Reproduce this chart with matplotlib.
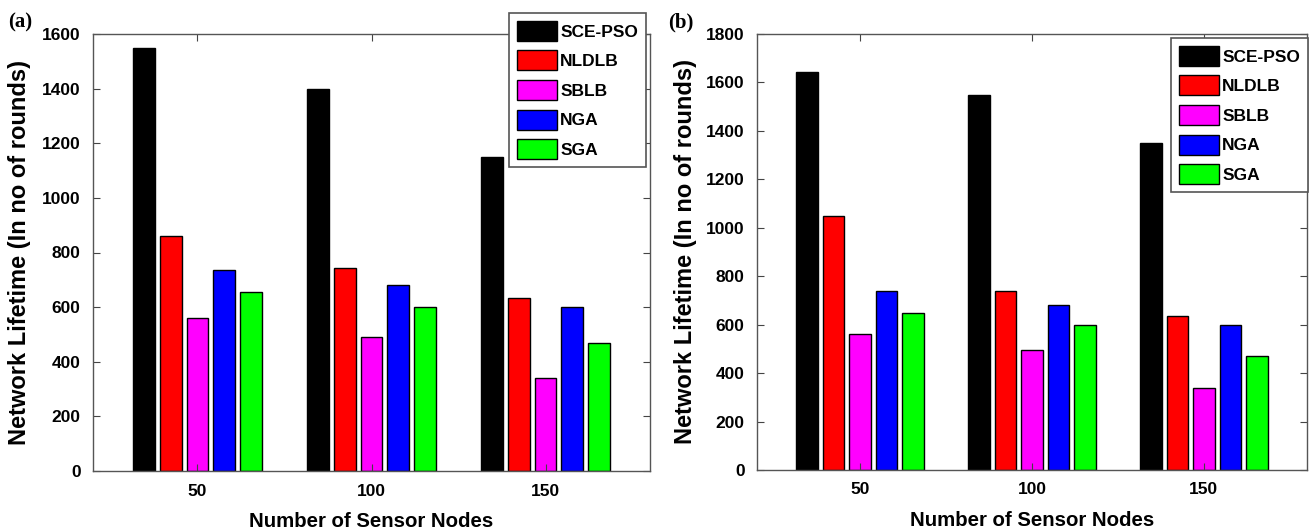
import numpy as np
import matplotlib
matplotlib.use("Agg")
import matplotlib.pyplot as plt

categories = ["50", "100", "150"]
series_names = ["SCE-PSO", "NLDLB", "SBLB", "NGA", "SGA"]
colors = ["#000000", "#ff0000", "#ff00ff", "#0000ff", "#00ff00"]

# Panel (a)
a_sce_pso = [1550, 1400, 1150]
a_nldlb = [860, 745, 635]
a_sblb = [560, 490, 340]
a_nga = [737, 682, 600]
a_sga = [655, 600, 470]

# Panel (b)
b_sce_pso = [1645, 1550, 1350]
b_nldlb = [1050, 740, 637]
b_sblb = [563, 495, 340]
b_nga = [740, 680, 600]
b_sga = [650, 600, 472]

a_ticks = [0, 200, 400, 600, 800, 1000, 1200, 1400, 1600]
b_ticks = [0, 200, 400, 600, 800, 1000, 1200, 1400, 1600, 1800]

plt.rcParams['font.family'] = ['Liberation Sans', 'DejaVu Sans']
plt.rcParams['font.weight'] = 'bold'

fig = plt.figure(figsize=(13.16, 5.32), dpi=100)

ax_a = fig.add_axes([93/1316, 61/532, 557/1316, 437/532])
ax_b = fig.add_axes([757/1316, 62/532, 550/1316, 436/532])

def draw(ax, data, ticks, ylim, leg_anchor, ylabelpad):
    x = np.arange(1, len(categories) + 1)
    n = len(data)
    step = 0.154
    width = 0.125
    handles = []
    for i, (vals, c) in enumerate(zip(data, colors)):
        h = ax.bar(x + (i - (n - 1) / 2) * step, vals, width=width, color=c,
                   edgecolor='black', linewidth=1.0, label=series_names[i])
        handles.append(h)
    ax.set_xlim(0.4, 3.6)
    ax.set_ylim(*ylim)
    ax.set_xticks(x)
    ax.set_xticklabels(categories)
    ax.set_yticks(ticks)
    ax.tick_params(direction='in', length=5, width=0.8, top=True, right=True,
                   labelsize=12.5, pad=9, color='#444444')
    for lbl in ax.get_xticklabels() + ax.get_yticklabels():
        lbl.set_fontweight('bold')
    for s in ax.spines.values():
        s.set_color('#555555')
        s.set_linewidth(1.0)
    ax.set_xlabel("Number of Sensor Nodes", fontsize=14.7, fontweight='bold', labelpad=10)
    ax.set_ylabel("Network Lifetime (In no of rounds)", fontsize=17, fontweight='bold',
                  labelpad=ylabelpad)
    leg = fig.legend(handles=handles, loc='upper right', bbox_to_anchor=leg_anchor,
                     bbox_transform=fig.transFigure, prop={'size': 12.5, 'weight': 'bold'},
                     handlelength=2.3, handleheight=1.4, handletextpad=0.2,
                     labelspacing=0.55, borderpad=0.45, borderaxespad=0.0,
                     fancybox=False, framealpha=1.0, edgecolor='#555555')
    leg.get_frame().set_linewidth(1.2)
    return leg

draw(ax_a, [a_sce_pso, a_nldlb, a_sblb, a_nga, a_sga], a_ticks, (0, 1600),
     (646/1316, 1 - 13/532), 8)
draw(ax_b, [b_sce_pso, b_nldlb, b_sblb, b_nga, b_sga], b_ticks, (0, 1800),
     (1308/1316, 1 - 38/532), 6)

fig.text(8/1316, 1 - 27/532, "(a)", fontsize=15, fontweight='bold',
         family=['Liberation Serif', 'DejaVu Serif'])
fig.text(668/1316, 1 - 27/532, "(b)", fontsize=15, fontweight='bold',
         family=['Liberation Serif', 'DejaVu Serif'])

fig.savefig("out.png", dpi=100)
